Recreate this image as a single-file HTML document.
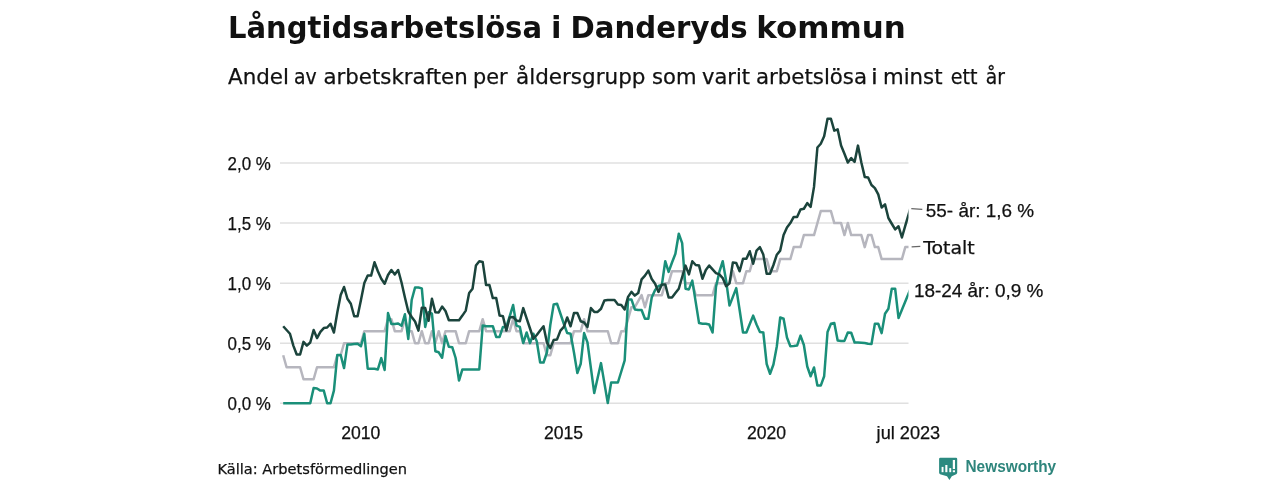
<!DOCTYPE html>
<html lang="sv"><head><meta charset="utf-8"><title>Långtidsarbetslösa i Danderyds kommun</title>
<style>
html,body{margin:0;padding:0;background:#fff;}
body{width:1280px;height:480px;overflow:hidden;position:relative;font-family:"Liberation Sans","DejaVu Sans",sans-serif;color:#1a1a1a;}
svg{position:absolute;left:0;top:0;display:block}
svg text{font-family:"Liberation Sans","DejaVu Sans",sans-serif;fill:#111;stroke:#111;stroke-width:0.25px}
</style></head><body>
<svg width="1280" height="480" viewBox="0 0 1280 480">
<rect width="1280" height="480" fill="#fff"/>
<g stroke="#e0e0e0" stroke-width="1.5" fill="none">
<line x1="280" x2="908.5" y1="403.3" y2="403.3"/>
<line x1="280" x2="908.5" y1="343.2" y2="343.2"/>
<line x1="280" x2="908.5" y1="283.2" y2="283.2"/>
<line x1="280" x2="908.5" y1="223.1" y2="223.1"/>
<line x1="280" x2="908.5" y1="163.1" y2="163.1"/>
</g>
<text y="38" font-size="30" font-weight="bold" style="font-family:'DejaVu Sans','Liberation Sans',sans-serif;stroke:none"><tspan x="228.00" textLength="314.00" lengthAdjust="spacingAndGlyphs">Långtidsarbetslösa</tspan> <tspan x="551.00" textLength="10.50" lengthAdjust="spacingAndGlyphs">i</tspan> <tspan x="570.50" textLength="177.25" lengthAdjust="spacingAndGlyphs">Danderyds</tspan> <tspan x="756.25" textLength="149.50" lengthAdjust="spacingAndGlyphs">kommun</tspan></text>
<text y="84.3" font-size="21.2" font-weight="normal" style="font-family:'DejaVu Sans','Liberation Sans',sans-serif"><tspan x="228.00" textLength="61.00" lengthAdjust="spacingAndGlyphs">Andel</tspan> <tspan x="294.00" textLength="22.75" lengthAdjust="spacingAndGlyphs">av</tspan> <tspan x="323.50" textLength="144.25" lengthAdjust="spacingAndGlyphs">arbetskraften</tspan> <tspan x="473.00" textLength="34.50" lengthAdjust="spacingAndGlyphs">per</tspan> <tspan x="516.00" textLength="129.50" lengthAdjust="spacingAndGlyphs">åldersgrupp</tspan> <tspan x="652.00" textLength="44.50" lengthAdjust="spacingAndGlyphs">som</tspan> <tspan x="702.00" textLength="48.00" lengthAdjust="spacingAndGlyphs">varit</tspan> <tspan x="756.00" textLength="111.00" lengthAdjust="spacingAndGlyphs">arbetslösa</tspan> <tspan x="871.00" textLength="6.75" lengthAdjust="spacingAndGlyphs">i</tspan> <tspan x="883.00" textLength="59.50" lengthAdjust="spacingAndGlyphs">minst</tspan> <tspan x="950.75" textLength="26.75" lengthAdjust="spacingAndGlyphs">ett</tspan> <tspan x="985.75" textLength="19.25" lengthAdjust="spacingAndGlyphs">år</tspan></text>
<g font-size="18" text-anchor="end">
<text x="270.9" y="169.7" textLength="43.3" lengthAdjust="spacingAndGlyphs">2,0 %</text>
<text x="270.9" y="229.8" textLength="43.3" lengthAdjust="spacingAndGlyphs">1,5 %</text>
<text x="270.9" y="289.8" textLength="43.3" lengthAdjust="spacingAndGlyphs">1,0 %</text>
<text x="270.9" y="349.9" textLength="43.3" lengthAdjust="spacingAndGlyphs">0,5 %</text>
<text x="270.9" y="410.0" textLength="43.3" lengthAdjust="spacingAndGlyphs">0,0 %</text>
</g>
<g font-size="17.6" text-anchor="middle">
<text x="360.8" y="438.8">2010</text>
<text x="563.6" y="438.8">2015</text>
<text x="766.5" y="438.8">2020</text>
<text x="908.4" y="438.8" textLength="63.6" lengthAdjust="spacingAndGlyphs">jul 2023</text>
</g>
<clipPath id="plotclip"><rect x="270" y="100" width="638.5" height="320"/></clipPath>
<g clip-path="url(#plotclip)">
<polyline points="283.20,355.24 286.58,367.25 289.96,367.25 293.34,367.25 296.72,367.25 300.10,367.25 303.49,379.27 306.87,379.27 310.25,379.27 313.63,379.27 317.01,367.25 320.39,367.25 323.77,367.25 327.15,367.25 330.53,367.25 333.91,367.25 337.30,355.24 340.68,355.24 344.06,343.23 347.44,343.23 350.82,343.23 354.20,343.23 357.58,343.23 360.96,343.23 364.34,331.21 367.72,331.21 371.11,331.21 374.49,331.21 377.87,331.21 381.25,331.21 384.63,331.21 388.01,319.19 391.39,319.19 394.77,331.21 398.15,331.21 401.53,331.21 404.92,319.19 408.30,331.21 411.68,331.21 415.06,343.23 418.44,343.23 421.82,331.21 425.20,343.23 428.58,343.23 431.96,331.21 435.34,343.23 438.73,331.21 442.11,343.23 445.49,331.21 448.87,331.21 452.25,331.21 455.63,331.21 459.01,343.23 462.39,343.23 465.77,343.23 469.15,331.21 472.54,331.21 475.92,331.21 479.30,331.21 482.68,319.19 486.06,331.21 489.44,331.21 492.82,331.21 496.20,331.21 499.58,331.21 502.96,331.21 506.35,331.21 509.73,331.21 513.11,319.19 516.49,331.21 519.87,331.21 523.25,343.23 526.63,343.23 530.01,343.23 533.39,343.23 536.77,343.23 540.16,343.23 543.54,343.23 546.92,355.24 550.30,355.24 553.68,343.23 557.06,343.23 560.44,343.23 563.82,343.23 567.20,343.23 570.59,343.23 573.97,331.21 577.35,331.21 580.73,331.21 584.11,319.19 587.49,331.21 590.87,331.21 594.25,331.21 597.63,331.21 601.01,331.21 604.39,331.21 607.78,331.21 611.16,343.23 614.54,343.23 617.92,343.23 621.30,331.21 624.68,331.21 628.06,319.19 631.44,307.18 634.82,307.18 638.20,301.17 641.59,295.17 644.97,307.18 648.35,295.17 651.73,295.17 655.11,295.17 658.49,295.17 661.87,295.17 665.25,283.15 668.63,283.15 672.01,271.13 675.40,271.13 678.78,271.13 682.16,271.13 685.54,283.15 688.92,283.15 692.30,283.15 695.68,295.17 699.06,295.17 702.44,295.17 705.83,295.17 709.21,295.17 712.59,295.17 715.97,283.15 719.35,283.15 722.73,283.15 726.11,283.15 729.49,283.15 732.87,271.13 736.25,283.15 739.63,283.15 743.02,283.15 746.40,271.13 749.78,271.13 753.16,259.12 756.54,259.12 759.92,259.12 763.30,259.12 766.68,259.12 770.06,271.13 773.44,271.13 776.83,271.13 780.21,259.12 783.59,259.12 786.97,259.12 790.35,259.12 793.73,247.10 797.11,247.10 800.49,247.10 803.87,235.09 807.25,235.09 810.64,235.09 814.02,235.09 817.40,223.07 820.78,211.06 824.16,211.06 827.54,211.06 830.92,211.06 834.30,223.07 837.68,223.07 841.07,223.07 844.45,235.09 847.83,223.07 851.21,235.09 854.59,235.09 857.97,235.09 861.35,235.09 864.73,247.10 868.11,235.09 871.49,235.09 874.88,247.10 878.26,247.10 881.64,259.12 885.02,259.12 888.40,259.12 891.78,259.12 895.16,259.12 898.54,259.12 901.92,259.12 905.30,247.10 908.68,247.10 910.68,247.10" fill="none" stroke="#b6b6be" stroke-width="2.5" stroke-linejoin="round" stroke-linecap="butt"/>
<polyline points="283.20,403.30 286.58,403.30 289.96,403.30 293.34,403.30 296.72,403.30 300.10,403.30 303.49,403.30 306.87,403.30 310.25,403.30 313.63,388.10 317.01,388.50 320.39,390.60 323.77,390.60 327.15,403.30 330.53,403.30 333.91,390.60 337.30,355.00 340.68,355.00 344.06,368.10 347.44,344.40 350.82,344.40 354.20,344.00 357.58,343.75 360.96,346.25 364.34,333.75 367.72,368.75 371.11,368.75 374.49,368.75 377.87,369.40 381.25,358.10 384.63,370.00 388.01,313.10 391.39,324.00 394.77,324.00 398.15,323.50 401.53,325.80 404.92,314.30 408.30,339.00 411.68,300.00 415.06,287.50 418.44,287.50 421.82,288.40 425.20,326.90 428.58,312.20 431.96,313.75 435.34,351.25 438.73,352.30 442.11,357.80 445.49,336.00 448.87,346.80 452.25,347.20 455.63,358.00 459.01,380.60 462.39,369.40 465.77,369.40 469.15,369.40 472.54,369.40 475.92,369.40 479.30,369.40 482.68,325.60 486.06,326.25 489.44,326.25 492.82,326.25 496.20,336.90 499.58,336.90 502.96,326.90 506.35,326.90 509.73,316.25 513.11,305.00 516.49,325.60 519.87,326.90 523.25,343.10 526.63,332.50 530.01,343.10 533.39,333.75 536.77,341.25 540.16,362.50 543.54,362.50 546.92,352.50 550.30,325.00 553.68,304.40 557.06,303.75 560.44,313.75 563.82,323.75 567.20,333.10 570.59,333.75 573.97,352.50 577.35,373.10 580.73,363.75 584.11,333.10 587.49,342.50 590.87,367.80 594.25,393.10 597.63,378.10 601.01,363.10 604.39,383.10 607.78,403.10 611.16,382.50 614.54,382.50 617.92,382.50 621.30,371.50 624.68,360.30 628.06,299.40 631.44,299.40 634.82,309.40 638.20,310.00 641.59,310.00 644.97,318.75 648.35,318.75 651.73,297.50 655.11,290.00 658.49,286.00 661.87,285.00 665.25,261.25 668.63,271.90 672.01,262.50 675.40,253.75 678.78,233.75 682.16,243.10 685.54,288.75 688.92,289.40 692.30,280.60 695.68,301.90 699.06,323.10 702.44,323.75 705.83,323.75 709.21,324.40 712.59,332.50 715.97,287.00 719.35,271.90 722.73,261.25 726.11,280.60 729.49,305.60 732.87,296.90 736.25,288.10 739.63,310.00 743.02,332.50 746.40,332.50 749.78,324.00 753.16,315.60 756.54,324.50 759.92,332.00 763.30,332.50 766.68,364.00 770.06,373.75 773.44,364.50 776.83,346.25 780.21,317.50 783.59,318.75 786.97,337.50 790.35,346.25 793.73,346.00 797.11,345.60 800.49,335.60 803.87,345.00 807.25,366.50 810.64,376.25 814.02,367.50 817.40,385.60 820.78,385.60 824.16,376.25 827.54,331.90 830.92,323.75 834.30,323.10 837.68,340.60 841.07,340.90 844.45,340.90 847.83,332.50 851.21,332.75 854.59,342.50 857.97,342.50 861.35,342.75 864.73,343.10 868.11,343.75 871.49,344.00 874.88,323.75 878.26,323.75 881.64,333.10 885.02,313.75 888.40,308.75 891.78,288.75 895.16,288.75 898.54,318.10 901.92,309.80 905.30,301.60 908.68,293.30 910.68,288.39" fill="none" stroke="#1a8f79" stroke-width="2.5" stroke-linejoin="round" stroke-linecap="butt"/>
<polyline points="283.20,326.25 286.58,330.00 289.96,333.75 293.34,345.60 296.72,354.50 300.10,354.50 303.49,341.90 306.87,345.60 310.25,342.50 313.63,330.00 317.01,338.10 320.39,331.90 323.77,328.10 327.15,327.50 330.53,323.75 333.91,332.50 337.30,312.50 340.68,295.00 344.06,287.00 347.44,298.75 350.82,303.75 354.20,316.25 357.58,316.25 360.96,300.00 364.34,283.10 367.72,275.60 371.11,275.60 374.49,262.25 377.87,271.25 381.25,278.75 384.63,283.75 388.01,275.00 391.39,270.00 394.77,274.40 398.15,270.00 401.53,282.50 404.92,297.50 408.30,311.50 411.68,317.00 415.06,321.50 418.44,330.60 421.82,307.80 425.20,308.10 428.58,320.80 431.96,298.75 435.34,312.20 438.73,312.40 442.11,306.60 445.49,311.00 448.87,320.30 452.25,320.30 455.63,320.30 459.01,320.30 462.39,315.60 465.77,310.60 469.15,293.10 472.54,288.75 475.92,265.60 479.30,261.25 482.68,261.90 486.06,285.00 489.44,285.00 492.82,298.10 496.20,298.10 499.58,315.60 502.96,316.25 506.35,330.60 509.73,317.50 513.11,316.90 516.49,320.60 519.87,321.25 523.25,308.10 526.63,318.40 530.01,328.50 533.39,338.75 536.77,335.00 540.16,330.60 543.54,326.25 546.92,342.50 550.30,348.10 553.68,340.00 557.06,339.40 560.44,330.60 563.82,326.90 567.20,317.50 570.59,326.25 573.97,313.10 577.35,313.10 580.73,321.25 584.11,322.50 587.49,326.90 590.87,308.10 594.25,311.90 597.63,311.90 601.01,308.75 604.39,300.60 607.78,300.00 611.16,300.00 614.54,300.00 617.92,304.40 621.30,305.00 624.68,309.40 628.06,296.90 631.44,291.90 634.82,295.60 638.20,293.10 641.59,279.40 644.97,275.60 648.35,270.60 651.73,279.00 655.11,283.75 658.49,291.90 661.87,284.40 665.25,284.40 668.63,297.50 672.01,297.50 675.40,293.10 678.78,288.75 682.16,277.00 685.54,265.60 688.92,274.40 692.30,261.25 695.68,265.00 699.06,265.60 702.44,278.75 705.83,270.00 709.21,265.60 712.59,269.40 715.97,273.10 719.35,274.40 722.73,278.10 726.11,286.30 729.49,283.40 732.87,262.50 736.25,263.10 739.63,271.25 743.02,258.75 746.40,258.75 749.78,251.25 753.16,263.75 756.54,250.60 759.92,247.20 763.30,254.60 766.68,273.75 770.06,273.75 773.44,265.00 776.83,254.70 780.21,250.60 783.59,235.00 786.97,227.50 790.35,223.10 793.73,216.90 797.11,216.90 800.49,209.40 803.87,208.75 807.25,203.10 810.64,206.90 814.02,186.90 817.40,147.50 820.78,143.75 824.16,136.25 827.54,118.75 830.92,118.75 834.30,130.60 837.68,129.40 841.07,145.60 844.45,153.75 847.83,162.50 851.21,158.10 854.59,161.90 857.97,145.60 861.35,162.50 864.73,176.90 868.11,177.50 871.49,185.00 874.88,188.10 878.26,194.40 881.64,207.50 885.02,204.40 888.40,218.00 891.78,223.75 895.16,229.40 898.54,226.25 901.92,237.50 905.30,225.70 908.68,214.00 910.68,207.08" fill="none" stroke="#1b443c" stroke-width="2.5" stroke-linejoin="round" stroke-linecap="butt"/>
</g>
<g stroke="#666" stroke-width="1.3" fill="none">
<line x1="911.3" y1="208.6" x2="922.3" y2="209.3"/>
<line x1="911.6" y1="246.9" x2="920.3" y2="246.3"/>
</g>
<g font-size="18.8">
<text x="925.8" y="216.6" textLength="108.3" lengthAdjust="spacingAndGlyphs">55- år: 1,6 %</text>
<text x="923.2" y="253.8" font-size="17.7" textLength="51.6" lengthAdjust="spacingAndGlyphs" style="font-family:'DejaVu Sans',sans-serif">Totalt</text>
<text x="913.9" y="296.6" textLength="129.4" lengthAdjust="spacingAndGlyphs">18-24 år: 0,9 %</text>
</g>
<text x="217.5" y="473.8" font-size="14.8" textLength="189.5" lengthAdjust="spacingAndGlyphs" style="font-family:'DejaVu Sans','Liberation Sans',sans-serif">Källa: Arbetsförmedlingen</text>
<g>
<path d="M940.3,457.8 H956 Q957.2,457.8 957.2,459 V472.8 Q957.2,473.8 956.2,474.2 L951.8,476.2 L949.4,480 L947,476.2 L940.1,474.2 Q939.1,473.8 939.1,472.8 V459 Q939.1,457.8 940.3,457.8 Z" fill="#2b8a80"/>
<rect x="941.6" y="466.9" width="1.9" height="5.3" fill="#fff"/>
<rect x="945.3" y="465" width="2.1" height="7.2" fill="#fff"/>
<rect x="949.3" y="468.1" width="1.9" height="4.1" fill="#fff"/>
<rect x="952.8" y="460" width="2.2" height="9" fill="#fff"/>
<rect x="952.8" y="470.3" width="2.2" height="1.9" fill="#fff"/>
<text x="965.5" y="472" font-size="15.8" font-weight="bold" textLength="90.6" lengthAdjust="spacingAndGlyphs" style="fill:#2e857c;stroke:none">Newsworthy</text>
</g>
</svg>
</body></html>
